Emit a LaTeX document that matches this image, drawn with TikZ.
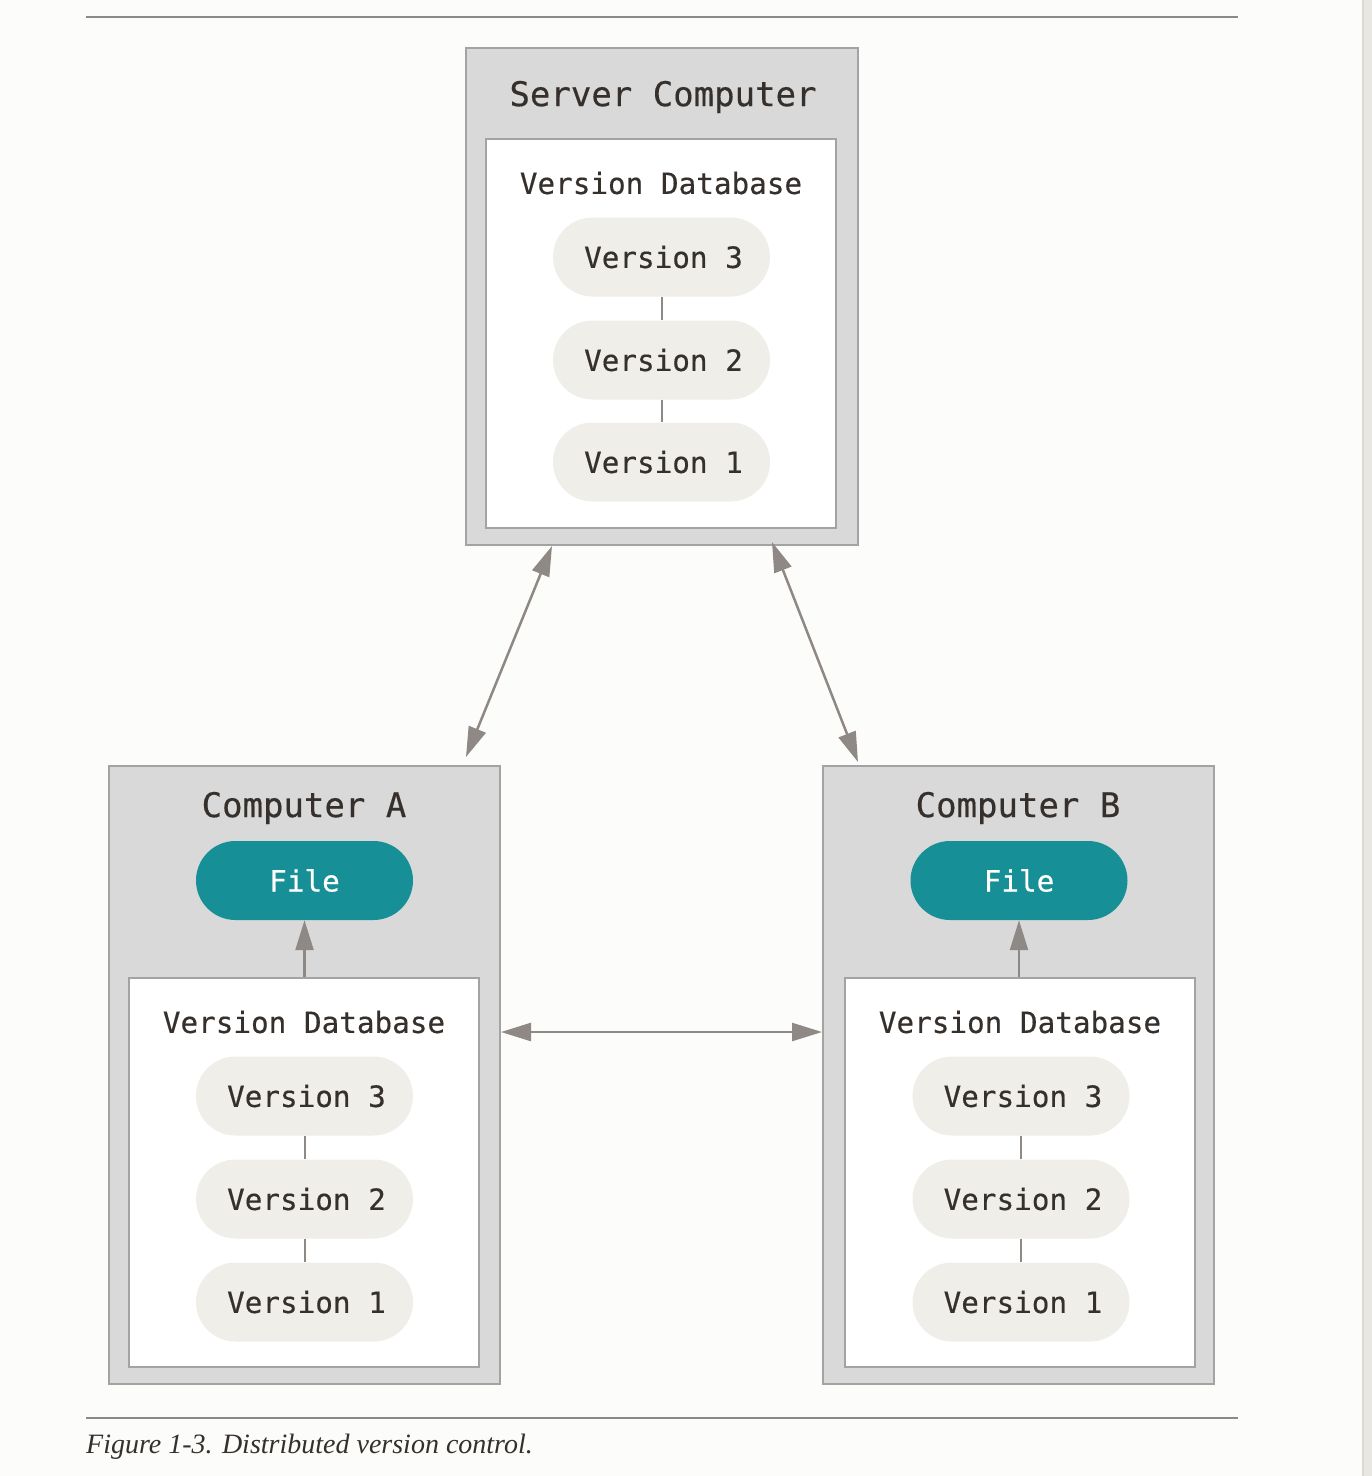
\documentclass[tikz,border=0pt]{standalone}
\usepackage{fontspec}
\setmainfont{Liberation Serif}
\newfontfamily\mono[FakeBold=0.4]{DejaVu Sans Mono}
\usetikzlibrary{arrows.meta}
\definecolor{bg}{HTML}{FCFCFA}
\definecolor{strip}{HTML}{E9E7E1}
\definecolor{stripline}{HTML}{DCDAD4}
\definecolor{boxfill}{HTML}{D9D9D9}
\definecolor{boxline}{HTML}{A3A3A3}
\definecolor{pill}{HTML}{EFEEE9}
\definecolor{teal}{HTML}{168F96}
\definecolor{arrowc}{HTML}{8E8984}
\definecolor{rulec}{HTML}{8A8A8A}
\definecolor{txt}{HTML}{36302C}
\tikzset{
  outerbox/.style={draw=boxline, fill=boxfill, line width=2.5pt, minimum width=391pt, minimum height=618pt, inner sep=0pt},
  innerbox/.style={draw=boxline, fill=white, line width=2.5pt, minimum width=350pt, minimum height=389pt, inner sep=0pt},
  title/.style={text=txt, font=\mono\fontsize{34}{40}\selectfont, inner sep=0pt},
  dbtitle/.style={text=txt, font=\mono\fontsize{29.3}{35}\selectfont, inner sep=0pt},
  verpill/.style={fill=pill, rounded corners=39.5pt, minimum width=217pt, minimum height=79pt, inner sep=0pt, text=txt, font=\mono\fontsize{29.3}{35}\selectfont},
  filepill/.style={fill=teal, rounded corners=39.5pt, minimum width=217pt, minimum height=79pt, inner sep=0pt, text=white, font=\mono\fontsize{29.3}{35}\selectfont},
  link/.style={draw=arrowc, line width=2pt},
  biarrow/.style={draw=arrowc, line width=2.5pt, {Triangle[length=30pt,width=18pt,fill=arrowc]}-{Triangle[length=30pt,width=18pt,fill=arrowc]}},
  uparrow/.style={draw=arrowc, line width=2.5pt, -{Triangle[length=30pt,width=18pt,fill=arrowc]}},
  hrule/.style={draw=rulec, line width=2pt}
}
\begin{document}
\begin{tikzpicture}[x=1pt,y=-1pt]
\fill[bg] (0,0) rectangle (1372,1476);
\useasboundingbox (0,0) rectangle (1372,1476);
\fill[strip] (1362,0) rectangle (1372,1476);
\draw[stripline, line width=2pt] (1363,0) -- (1363,1476);

% rules
\coordinate (r1a) at (86,17); \coordinate (r1b) at (1238,17);
\coordinate (r2a) at (86,1418); \coordinate (r2b) at (1238,1418);
\draw[hrule] (r1a) -- (r1b);
\draw[hrule] (r2a) -- (r2b);
\node[anchor=base west, inner sep=0pt, text=txt, font=\itshape\fontsize{28}{32}\selectfont] (cap) at (86,1453) {Figure 1-3. Distributed version control.};

% server
\node[outerbox, minimum height=497pt, minimum width=392pt] (srv) at (662,296.5) {};
\node[innerbox] (srvdb) at (661,333.5) {};
\node[title] (srvt) at (663,97) {Server Computer};
\node[dbtitle] (srvdbt) at (661,183) {Version Database};
\node[verpill] (s3) at (661.5,257) {\hspace*{4pt}Version 3};
\node[verpill] (s2) at (661.5,360) {\hspace*{4pt}Version 2};
\node[verpill] (s1) at (661.5,462) {\hspace*{4pt}Version 1};
\draw[link] (s3.south) -- (s2.north);
\draw[link] (s2.south) -- (s1.north);

% computer A
\node[outerbox] (ca) at (304.5,1075) {};
\node[innerbox] (cadb) at (304,1172.5) {};
\node[title] (cat) at (304,808) {Computer A};
\node[filepill] (caf) at (304.5,880.5) {File};
\node[dbtitle] (cadbt) at (304,1022) {Version Database};
\node[verpill] (a3) at (304.5,1096) {\hspace*{4pt}Version 3};
\node[verpill] (a2) at (304.5,1199) {\hspace*{4pt}Version 2};
\node[verpill] (a1) at (304.5,1302) {\hspace*{4pt}Version 1};
\draw[link] (a3.south) -- (a2.north);
\draw[link] (a2.south) -- (a1.north);
\draw[uparrow] (cadb.north -| caf.south) -- (caf.south);

% computer B
\node[outerbox] (cb) at (1018.5,1075) {};
\node[innerbox] (cbdb) at (1020,1172.5) {};
\node[title] (cbt) at (1018,808) {Computer B};
\node[filepill] (cbf) at (1019,880.5) {File};
\node[dbtitle] (cbdbt) at (1020,1022) {Version Database};
\node[verpill] (b3) at (1021,1096) {\hspace*{4pt}Version 3};
\node[verpill] (b2) at (1021,1199) {\hspace*{4pt}Version 2};
\node[verpill] (b1) at (1021,1302) {\hspace*{4pt}Version 1};
\draw[link] (b3.south) -- (b2.north);
\draw[link] (b2.south) -- (b1.north);
\draw[uparrow] (cbdb.north -| cbf.south) -- (cbf.south);

% arrows between computers
\coordinate (sa) at (552,546);
\coordinate (as) at (466,757);
\coordinate (sb) at (772,542);
\coordinate (bs) at (858,762);
\coordinate (ab1) at (501,1032);
\coordinate (ab2) at (822,1032);
\draw[biarrow] (sa) -- (as);
\draw[biarrow] (sb) -- (bs);
\draw[biarrow] (ab1) -- (ab2);
\end{tikzpicture}
\end{document}
